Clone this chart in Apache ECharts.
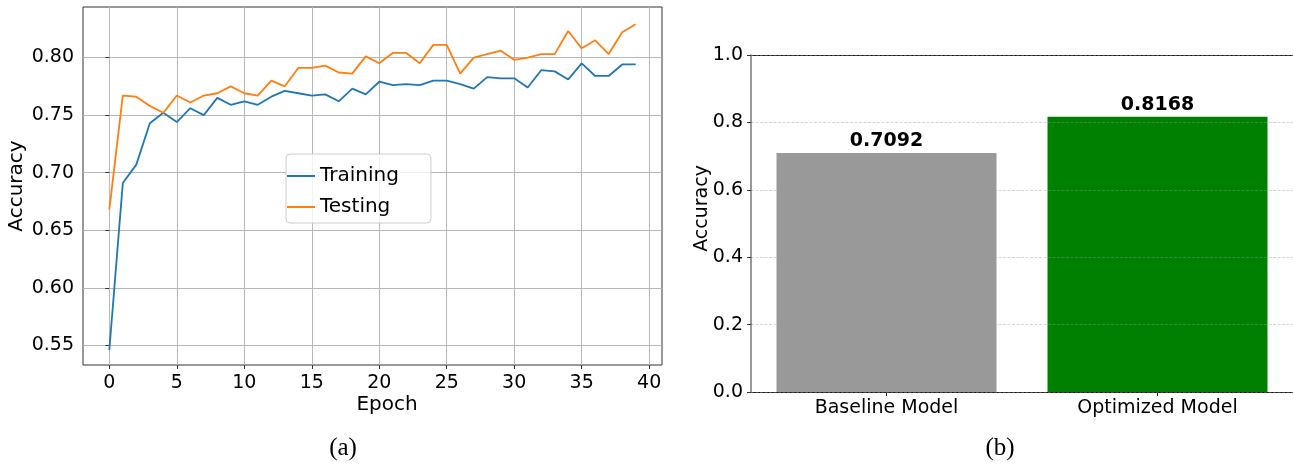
<!DOCTYPE html>
<html><head><meta charset="utf-8">
<script src="https://cdn.jsdelivr.net/npm/echarts@6/dist/echarts.min.js"></script>
<style>html,body{margin:0;padding:0;background:#fff}#c{width:1293px;height:464px}</style>
</head><body><div id="c"></div>
<script>
const epochs = [0,1,2,3,4,5,6,7,8,9,10,11,12,13,14,15,16,17,18,19,20,21,22,23,24,25,26,27,28,29,30,31,32,33,34,35,36,37,38,39];
const trainAcc = [0.546,0.691,0.707,0.743,0.752,0.744,0.756,0.750,0.765,0.759,0.762,0.759,0.766,0.771,0.769,0.767,0.768,0.762,0.773,0.768,0.779,0.776,0.777,0.776,0.780,0.780,0.777,0.773,0.783,0.782,0.782,0.774,0.789,0.788,0.781,0.795,0.784,0.784,0.794,0.794];
const testAcc = [0.668,0.767,0.766,0.758,0.752,0.767,0.761,0.767,0.769,0.775,0.769,0.767,0.780,0.775,0.791,0.791,0.793,0.787,0.786,0.801,0.795,0.804,0.804,0.795,0.811,0.811,0.786,0.800,0.803,0.806,0.798,0.800,0.803,0.803,0.823,0.808,0.815,0.803,0.822,0.829];
const leftXTicks = [0,5,10,15,20,25,30,35,40];
const leftYTicks = [0.55,0.60,0.65,0.70,0.75,0.80];
const models = ['Baseline Model','Optimized Model'];
const modelAcc = [0.7092,0.8168];
const barColors = ['#999999','#008000'];
const rightYTicks = [0.0,0.2,0.4,0.6,0.8,1.0];

const FONT = 'DejaVu Sans';
const chart = echarts.init(document.getElementById('c'), null, {renderer:'canvas'});
const pair = arr => epochs.map((e,i)=>[e, arr[i]]);

chart.setOption({
  animation:false,
  textStyle:{fontFamily:FONT},
  grid:[
    {left:83, top:7, width:579, height:358, show:true, borderColor:'#333', borderWidth:1, backgroundColor:'transparent'},
    {left:751, top:55, width:542, height:337}
  ],
  title:[
    {text:'Epoch', left:382, top:390, textAlign:'center', textStyle:{fontFamily:FONT,fontSize:20,fontWeight:'normal',color:'#000'}},
    {text:'(a)', left:338, top:431, textAlign:'center', textStyle:{fontFamily:'Liberation Serif',fontSize:25,fontWeight:'normal',color:'#000'}},
    {text:'(b)', left:995, top:431, textAlign:'center', textStyle:{fontFamily:'Liberation Serif',fontSize:25,fontWeight:'normal',color:'#000'}}
  ],
  graphic:[
    {type:'text', x:702, y:208.5, rotation:Math.PI/2, style:{text:'Accuracy', font:'19px "DejaVu Sans"', fill:'#000', align:'center', verticalAlign:'middle'}}
  ],
  legend:{
    data:['Training','Testing'], orient:'vertical', left:286, top:154,
    icon:'rect', itemWidth:28, itemHeight:2, itemGap:11,
    padding:[12,32,6,1],
    backgroundColor:'rgba(255,255,255,0.8)', borderColor:'#cccccc', borderWidth:1, borderRadius:4,
    textStyle:{fontFamily:FONT, fontSize:20, color:'#000', lineHeight:20}
  },
  xAxis:[
    {gridIndex:0, type:'value', min:-1.95, max:40.95,
     axisLine:{show:false},
     axisTick:{show:true, inside:false, length:4, customValues:leftXTicks, lineStyle:{color:'#333'}},
     axisLabel:{customValues:leftXTicks, fontSize:19, color:'#000', margin:9},
     splitLine:{show:true, lineStyle:{color:'#b8b8b8', width:1}}},
    {gridIndex:1, type:'category', data:models, position:'bottom',
     axisLine:{show:true, lineStyle:{color:'#111', width:1}},
     axisTick:{show:true, alignWithLabel:true, length:4, lineStyle:{color:'#222'}},
     axisLabel:{fontSize:19, color:'#000', margin:7},
     splitLine:{show:false}},
    {gridIndex:1, type:'category', data:models, position:'top',
     axisLine:{show:true, lineStyle:{color:'#111', width:1}},
     axisTick:{show:false}, axisLabel:{show:false}, splitLine:{show:false}}
  ],
  yAxis:[
    {gridIndex:0, type:'value', min:0.533, max:0.8439,
     name:'Accuracy', nameLocation:'middle', nameGap:56, nameTextStyle:{fontFamily:FONT,fontSize:20,color:'#000'},
     axisLine:{show:false},
     axisTick:{show:true, length:4, customValues:leftYTicks, lineStyle:{color:'#333'}},
     axisLabel:{customValues:leftYTicks, fontSize:19, color:'#000', margin:9, formatter:v=>v.toFixed(2)},
     splitLine:{show:true, lineStyle:{color:'#b8b8b8', width:1}}},
    {gridIndex:1, type:'value', min:0, max:1, interval:0.2, z:5,
     axisLine:{show:true, lineStyle:{color:'#777', width:1.5}},
     axisTick:{show:true, length:4, lineStyle:{color:'#333'}},
     axisLabel:{fontSize:19, color:'#000', margin:8, formatter:v=>v.toFixed(1)},
     splitLine:{show:true, lineStyle:{color:'rgba(150,150,150,0.4)', width:1, type:[3,1.5]}}}
  ],
  series:[
    {name:'Training', type:'line', xAxisIndex:0, yAxisIndex:0, data:pair(trainAcc), symbol:'none', lineStyle:{color:'#1f77b4', width:1.8}, itemStyle:{color:'#1f77b4'}},
    {name:'Testing', type:'line', xAxisIndex:0, yAxisIndex:0, data:pair(testAcc), symbol:'none', lineStyle:{color:'#ff7f0e', width:1.8}, itemStyle:{color:'#ff7f0e'}},
    {name:'acc', type:'bar', xAxisIndex:1, yAxisIndex:1, barWidth:220, z:2,
     data:modelAcc.map((v,i)=>({value:v, itemStyle:{color:barColors[i]}})),
     label:{show:true, position:'top', distance:2, fontFamily:FONT, fontSize:19, fontWeight:'bold', color:'#000', formatter:p=>p.value.toFixed(4)}}
  ]
});
</script></body></html>
